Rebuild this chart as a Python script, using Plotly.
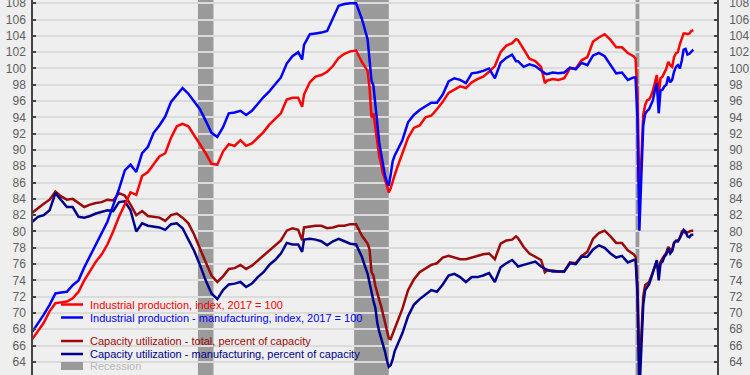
import plotly.graph_objects as go

dates = [
    "1994-01", "1994-04", "1994-07", "1994-10",
    "1995-01", "1995-04", "1995-07", "1995-10",
    "1996-01", "1996-04", "1996-07", "1996-10",
    "1997-01", "1997-04", "1997-07", "1997-10",
    "1998-01", "1998-04", "1998-07", "1998-10",
    "1999-01", "1999-04", "1999-07", "1999-10",
    "2000-01", "2000-04", "2000-07", "2000-10",
    "2001-01", "2001-04", "2001-07", "2001-10",
    "2002-01", "2002-04", "2002-07", "2002-10",
    "2003-01", "2003-04", "2003-07", "2003-10",
    "2004-01", "2004-04", "2004-07", "2004-10",
    "2005-01", "2005-04", "2005-07", "2005-09", "2005-10",
    "2006-01", "2006-04", "2006-07", "2006-10",
    "2007-01", "2007-04", "2007-07", "2007-10",
    "2008-01", "2008-04", "2008-07", "2008-08", "2008-09", "2008-10", "2008-11", "2008-12",
    "2009-01", "2009-02", "2009-03", "2009-04", "2009-05", "2009-06", "2009-07", "2009-08", "2009-09", "2009-10",
    "2010-01", "2010-04", "2010-07", "2010-10",
    "2011-01", "2011-04", "2011-07", "2011-10",
    "2012-01", "2012-04", "2012-07", "2012-10",
    "2013-01", "2013-04", "2013-07", "2013-10",
    "2014-01", "2014-04", "2014-07", "2014-10", "2014-12",
    "2015-01", "2015-04", "2015-07", "2015-10",
    "2016-01", "2016-03", "2016-04", "2016-07", "2016-10",
    "2017-01", "2017-04", "2017-07", "2017-10",
    "2018-01", "2018-04", "2018-07", "2018-10",
    "2019-01", "2019-04", "2019-07", "2019-10",
    "2020-01", "2020-02", "2020-03", "2020-04", "2020-05", "2020-06", "2020-07", "2020-08", "2020-09", "2020-10", "2020-11", "2020-12",
    "2021-01", "2021-02", "2021-03", "2021-04", "2021-05", "2021-06", "2021-07", "2021-08", "2021-09", "2021-10", "2021-11", "2021-12",
    "2022-01", "2022-02", "2022-03", "2022-04", "2022-05", "2022-06", "2022-07", "2022-08",
]

ip_total = [
    66.8, 67.8, 68.8, 70.2,
    71.2, 71.3, 71.4, 71.8,
    72.6, 74.0, 75.2, 76.3,
    77.2, 78.4, 80.0, 81.8,
    83.3, 84.8, 84.5, 86.8,
    87.3, 88.2, 89.2, 89.6,
    91.5, 92.9, 93.2, 92.9,
    91.8, 90.8, 89.6, 88.3,
    88.2, 89.8, 90.7, 90.5,
    91.2, 90.5, 90.8, 91.5,
    92.2, 93.1, 93.8, 94.5,
    96.2, 96.4, 96.4, 95.3, 96.8,
    98.3, 99.0, 99.2, 99.6,
    100.3, 101.3, 101.8, 102.1,
    102.2, 100.8, 99.7, 97.6, 94.0, 94.5, 92.6, 90.6,
    89.2, 88.2, 87.1, 86.4, 85.7, 84.8, 85.3, 86.2, 86.9, 87.6,
    89.6, 91.5, 92.7, 93.0,
    94.0, 94.2, 95.0, 95.9,
    97.0, 97.4, 97.8, 97.6,
    98.3, 98.7, 99.0, 99.6,
    100.3, 102.0, 102.8, 103.1, 103.6,
    103.5, 102.3, 101.2, 100.9,
    100.2, 98.2, 98.5, 98.7, 98.6,
    98.8, 100.0, 100.0, 101.0,
    101.4, 103.3, 103.8, 104.2,
    103.5, 102.6, 102.6, 101.9,
    101.5, 101.2, 97.0, 84.7, 88.5, 94.3, 95.5, 96.1, 96.2, 96.6, 97.3, 98.4,
    99.2, 96.8, 98.8, 99.0, 99.5, 100.0, 100.8, 100.4, 100.2, 101.4, 101.9, 102.0,
    103.0, 103.6, 104.3, 104.3, 104.2, 104.3, 104.6, 104.7,
]

ip_mfg = [
    67.7, 68.7, 69.8, 71.0,
    72.4, 72.5, 72.6, 73.4,
    74.0, 75.6, 77.0, 78.3,
    79.8, 81.2, 83.2, 85.2,
    87.5, 88.2, 87.3, 89.6,
    90.4, 92.1, 93.0, 94.1,
    95.9, 96.8, 97.6, 96.9,
    96.0, 95.0, 93.6, 92.1,
    91.6, 92.8, 94.5, 94.6,
    94.8, 94.3, 94.8, 95.7,
    96.5, 97.2, 98.1, 98.9,
    100.6, 101.5, 102.0, 101.1, 102.9,
    104.2, 104.3, 104.4, 104.6,
    106.2, 107.7, 107.9, 108.0,
    108.0, 106.1, 103.6, 100.6, 98.5, 97.9, 95.2, 92.8,
    90.9, 89.5, 88.0, 86.9, 86.1, 85.6, 87.0, 88.6, 89.3, 89.8,
    91.2, 93.4, 94.3, 94.9,
    95.4, 95.8, 95.8, 96.8,
    98.4, 98.8, 98.6, 98.2,
    99.4, 99.5, 99.7, 100.0,
    98.8, 100.7, 101.3, 101.7, 100.9,
    100.9, 100.2, 100.5, 100.3,
    99.7, 99.4, 99.3, 99.5, 99.4,
    99.5, 100.1, 99.9, 100.7,
    100.4, 101.6, 101.9, 101.5,
    100.5, 99.4, 99.5, 98.6,
    98.9, 98.9, 94.0, 80.1, 86.5, 93.0, 94.4, 94.8, 95.0, 95.5, 96.1, 97.3,
    98.2, 94.5, 97.3, 97.4, 97.8, 98.0, 99.0, 98.3, 98.6, 99.6, 100.2, 100.4,
    100.0, 101.0, 102.3, 102.4, 101.7, 101.8, 102.1, 102.3,
]

cu_total = [
    82.3, 82.9, 83.4, 83.9,
    84.9, 84.3, 83.9, 84.0,
    83.5, 83.0, 83.3, 83.5,
    83.6, 83.9, 83.8, 84.7,
    84.4, 83.3, 82.0, 82.5,
    81.9, 81.8, 81.7, 81.3,
    82.0, 82.2, 81.7, 81.0,
    79.6, 77.9, 76.2, 74.6,
    73.8, 74.5, 75.4, 75.5,
    75.9, 75.4, 75.8, 76.4,
    77.0, 77.6, 78.3, 78.9,
    80.1, 80.4, 80.2, 78.9, 80.5,
    80.6, 80.7, 80.7, 80.4,
    80.5, 80.7, 80.7, 80.9,
    80.9, 79.5, 78.5, 77.8, 75.0, 74.6, 73.3, 72.3,
    71.6, 70.8, 69.8, 68.8, 67.8, 66.9, 66.8, 67.4, 68.0, 68.6,
    70.5, 72.8, 74.1, 75.0,
    75.5, 75.9, 76.1, 76.8,
    77.0, 76.8, 76.6, 76.6,
    76.8, 77.0, 77.2, 77.3,
    76.6, 78.5, 78.9, 79.0, 79.4,
    79.2, 78.1, 77.3, 76.9,
    76.5, 75.0, 75.2, 75.2, 75.1,
    75.1, 76.2, 76.1, 77.0,
    77.5, 79.1, 79.8, 80.1,
    79.4, 78.6, 78.6, 77.7,
    77.2, 76.9, 73.6, 64.2, 67.0, 72.0, 73.4, 73.6, 73.8, 74.4, 75.1, 75.6,
    76.3, 75.0, 76.3, 76.7, 77.1, 77.4, 78.1, 77.8, 77.7, 78.6, 78.9, 78.8,
    79.2, 80.0, 80.0, 79.8, 79.9, 80.0, 80.1, 80.1,
]

cu_mfg = [
    81.2, 81.8, 82.0, 82.6,
    84.7, 83.8, 83.0, 83.0,
    81.8, 81.7, 81.9, 82.2,
    82.4, 82.6, 82.5, 83.6,
    83.7, 82.6, 80.0, 81.0,
    80.7, 80.6, 80.5, 80.2,
    80.9, 81.0, 80.4, 79.0,
    77.6, 75.9, 74.0, 72.4,
    71.7, 72.8, 73.5, 73.6,
    73.8, 73.2, 73.6, 74.4,
    75.0, 75.9, 76.5, 77.3,
    78.6, 78.4, 78.4, 77.5, 79.0,
    79.1, 79.0, 78.8, 78.3,
    78.8, 79.1, 78.8, 78.5,
    78.4, 76.9, 74.8, 73.6, 72.2, 71.5, 70.6, 68.8,
    67.7, 66.9, 66.0, 65.3, 64.2, 63.4, 63.6, 64.3, 65.3, 65.9,
    67.5, 69.6, 71.0, 71.7,
    72.3, 72.8, 72.6, 73.5,
    74.6, 74.8, 74.4, 73.8,
    74.4, 74.4, 74.6, 74.9,
    73.8, 75.6, 76.1, 76.5, 76.0,
    75.7, 75.9, 76.1, 76.3,
    75.7, 75.4, 75.3, 75.1, 75.1,
    75.1, 76.1, 76.0, 76.9,
    76.9, 77.8, 78.3, 78.0,
    77.3, 76.8, 77.0, 76.2,
    76.5, 76.5, 72.5, 60.0, 65.5, 71.0, 72.8, 73.2, 73.5, 74.2, 74.9, 75.6,
    76.5, 74.0, 76.1, 76.3, 76.9, 77.2, 77.9, 77.3, 77.6, 78.6, 78.8, 78.8,
    79.2, 79.7, 80.2, 80.0, 79.4, 79.3, 79.6, 79.6,
]

recession_start = ["2001-03-01", "2007-12-01", "2020-02-01"]
recession_end = ["2001-11-01", "2009-06-01", "2020-04-01"]

y_ticks = list(range(64, 110, 2))

series_names = [
    "Industrial production, index, 2017 = 100",
    "Industrial production - manufacturing, index, 2017 = 100",
    "Capacity utilization - total, percent of capacity",
    "Capacity utilization - manufacturing, percent of capacity",
]
recession_name = "Recession"

RED = "#FF0000"
BLUE = "#0000FF"
DARKRED = "#9B0A0A"
NAVY = "#00008C"
REC_GRAY = "#9A9A9A"

fig = go.Figure()
fig.add_trace(go.Scatter(x=dates, y=cu_total, mode="lines", line=dict(color=DARKRED, width=2.5), name=series_names[2], showlegend=False))
fig.add_trace(go.Scatter(x=dates, y=cu_mfg, mode="lines", line=dict(color=NAVY, width=2.5), name=series_names[3], showlegend=False))
fig.add_trace(go.Scatter(x=dates, y=ip_total, mode="lines", line=dict(color=RED, width=2.5), name=series_names[0], showlegend=False))
fig.add_trace(go.Scatter(x=dates, y=ip_mfg, mode="lines", line=dict(color=BLUE, width=2.5), name=series_names[1], showlegend=False, yaxis="y2"))

shapes = []
for s, e in zip(recession_start, recession_end):
    shapes.append(dict(type="rect", xref="x", yref="paper", x0=s, x1=e, y0=0, y1=1,
                       fillcolor=REC_GRAY, line=dict(width=0), layer="between"))

# manual legend
W, H = 750.0, 375.0
L, R = 33.0, 33.0
PW = W - L - R


def px(xp):
    return (xp - L) / PW


def py(yp):
    return 1 - yp / H


legend_font = "Arial, Liberation Sans"
legend_rows = [(series_names[0], RED, 304.5), (series_names[1], BLUE, 317.5),
               (series_names[2], DARKRED, 341.0), (series_names[3], NAVY, 354.0)]
annotations = []
for name, col, yy in legend_rows:
    shapes.append(dict(type="line", xref="paper", yref="paper", x0=px(61), x1=px(83), y0=py(yy), y1=py(yy),
                       line=dict(color=col, width=2.5), layer="above"))
    annotations.append(dict(text=name, xref="paper", yref="paper", x=px(87.5), y=py(yy), xanchor="left",
                            yanchor="middle", showarrow=False, font=dict(family=legend_font, size=11, color=col)))
shapes.append(dict(type="rect", xref="paper", yref="paper", x0=px(61), x1=px(83), y0=py(370), y1=py(362),
                   fillcolor=REC_GRAY, line=dict(width=0), layer="above"))
annotations.append(dict(text=recession_name, xref="paper", yref="paper", x=px(87.5), y=py(366), xanchor="left",
                        yanchor="middle", showarrow=False, font=dict(family=legend_font, size=11, color="#B8B8B8")))

yrange = [62.39, 108.4]
tickfont = dict(family="Arial, Liberation Sans", size=12, color="#606060")

fig.update_layout(
    width=750, height=375,
    margin=dict(l=33, r=33, t=0, b=0, pad=0, autoexpand=False),
    paper_bgcolor="#EFEFEF", plot_bgcolor="#EFEFEF",
    showlegend=False,
    hovermode=False,
    shapes=shapes, annotations=annotations,
    xaxis=dict(type="date", range=["1994-01-12", "2023-08-10"], showgrid=False, showticklabels=False,
               showline=False, zeroline=False, ticks="", automargin=False),
    yaxis=dict(range=yrange, tickvals=y_ticks, showgrid=True, gridcolor="#DBDBDB", gridwidth=1.5,
               zeroline=False, showline=True, linecolor="#444444", linewidth=1.5,
               ticks="inside", ticklen=3, tickcolor="#444444", tickwidth=1.5,
               tickfont=tickfont, ticklabelstandoff=3, automargin=False, ticklabeloverflow="allow"),
    yaxis2=dict(range=yrange, tickvals=y_ticks, overlaying="y", side="right", showgrid=False,
                zeroline=False, showline=True, linecolor="#444444", linewidth=1.5,
                ticks="inside", ticklen=3, tickcolor="#444444", tickwidth=1.5,
                tickfont=tickfont, ticklabelstandoff=8, automargin=False, ticklabeloverflow="allow"),
)

fig.write_html(
    "out.html",
    config={"displayModeBar": False},
    post_script="document.body.style.margin='0px';document.body.style.padding='0px';"
                "document.body.style.overflow='hidden';document.body.style.background='#EFEFEF';",
)
